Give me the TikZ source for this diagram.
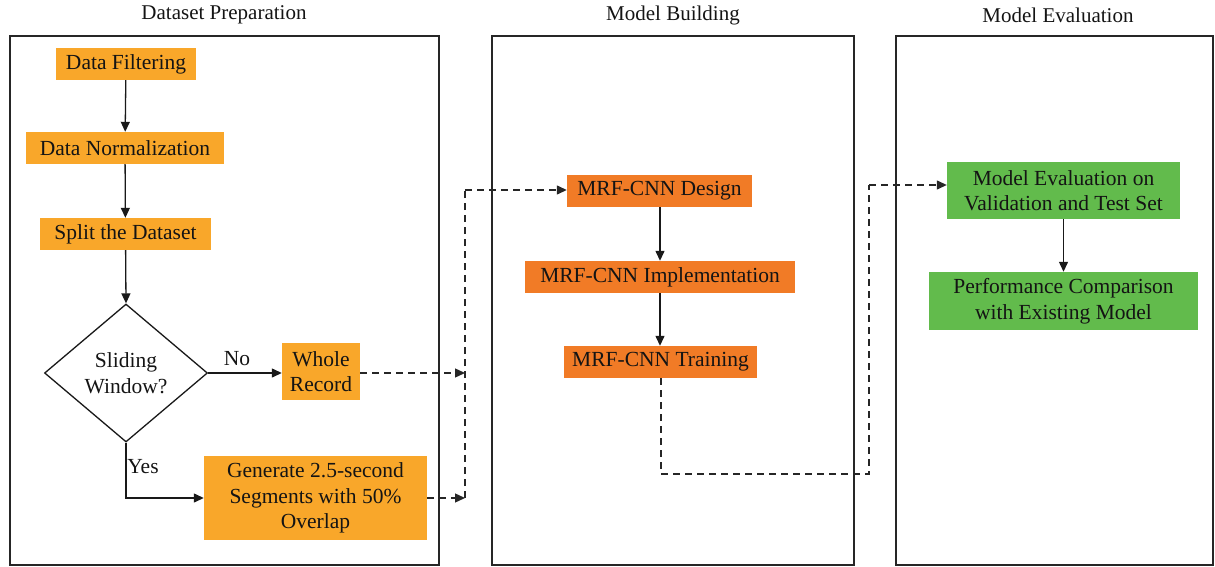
\documentclass[tikz,border=0pt]{standalone}
\usepackage{fontspec}
\setmainfont{Liberation Serif}
\usetikzlibrary{arrows.meta,shapes.geometric}
\definecolor{lorange}{HTML}{F9A72A}
\definecolor{dorange}{HTML}{F17B26}
\definecolor{lgreen}{HTML}{62BB4C}
\begin{document}
\begin{tikzpicture}[x=1pt,y=-1pt,
  every node/.style={font=\fontsize{21.5}{25.5}\selectfont, text=black!92},
  panel/.style={draw=black!85, line width=1.3pt},
  ptitle/.style={font=\fontsize{21}{24}\selectfont},
  lbox/.style={fill=lorange, inner sep=0pt, align=center},
  obox/.style={fill=dorange, inner sep=0pt, align=center},
  gbox/.style={fill=lgreen, inner sep=0pt, align=center},
  arr/.style={draw=black!90, line width=1.3pt, -{Triangle[length=10pt,width=9pt]}},
  darr/.style={draw=black!85, line width=1.3pt, dash pattern=on 7pt off 5pt},
  dtip/.style={-{Triangle[length=10pt,width=9pt]}},
]
\useasboundingbox (0,0) rectangle (1215,567);
% panels
\draw[panel] (10,36) rectangle (439,565);
\draw[panel] (492,36) rectangle (854,565);
\draw[panel] (896,36) rectangle (1213,565);
\node[ptitle] (t1) at (224,15) {Dataset Preparation};
\node[ptitle] (t2) at (673,15) {Model Building};
\node[ptitle] (t3) at (1058,15) {Model Evaluation};
% dataset preparation
\node[lbox, minimum width=140pt, minimum height=32pt] (filt) at (126,64) {Data Filtering};
\node[lbox, minimum width=198pt, minimum height=32pt] (norm) at (125,148) {Data Normalization};
\node[lbox, minimum width=171pt, minimum height=32pt] (split) at (125.5,234) {Split the Dataset};
\node[diamond, draw=black!90, line width=1.3pt, minimum width=163pt, minimum height=138pt, inner sep=0pt, align=center, aspect=1.18] (dec) at (126,373) {Sliding\\Window?};
\node[lbox, minimum width=78pt, minimum height=57pt] (whole) at (321,371.5) {Whole\\Record};
\node[lbox, minimum width=223pt, minimum height=84pt] (gen) at (315.5,498) {Generate 2.5-second\\Segments with 50\%\\Overlap};
\draw[arr] (filt) -- (norm);
\draw[arr] (norm) -- (split);
\draw[arr] (split) -- (dec.north);
\draw[arr] (dec.east) -- (whole.west |- dec.east);
\node (no) at (237,359) {No};
\draw[arr] (dec.south) |- (gen.west);
\node (yes) at (143,467) {Yes};
% model building
\node[obox, minimum width=185pt, minimum height=32pt] (design) at (659.5,191) {MRF-CNN Design};
\node[obox, minimum width=270pt, minimum height=32pt] (impl) at (660,277) {MRF-CNN Implementation};
\node[obox, minimum width=193pt, minimum height=32pt] (train) at (660.5,362) {MRF-CNN Training};
\draw[arr] (design.south -| impl.north) -- (impl.north);
\draw[arr] (impl) -- (train.north -| impl.south);
% model evaluation
\node[gbox, minimum width=233pt, minimum height=57pt] (eval) at (1063.5,190.5) {Model Evaluation on\\Validation and Test Set};
\node[gbox, minimum width=269pt, minimum height=58pt] (perf) at (1063.5,301) {Performance Comparison\\with Existing Model};
\draw[arr] (eval) -- (perf);
% dashed connectors
\coordinate (j1) at (465,373);
\coordinate (j2) at (465,498);
\coordinate (jt) at (465,190);
\draw[darr, dtip] (whole.east |- j1) -- (j1);
\draw[darr, dtip] (gen.east) -- (j2);
\draw[darr] (j2) -- (jt);
\draw[darr, dtip] (jt) -- (design.west |- jt);
\coordinate (k1) at (661,474);
\coordinate (k2) at (869,474);
\coordinate (k3) at (869,185);
\draw[darr] (train.south -| k1) -- (k1) -- (k2) -- (k3);
\draw[darr, dtip] (k3) -- (eval.west |- k3);
\end{tikzpicture}
\end{document}
